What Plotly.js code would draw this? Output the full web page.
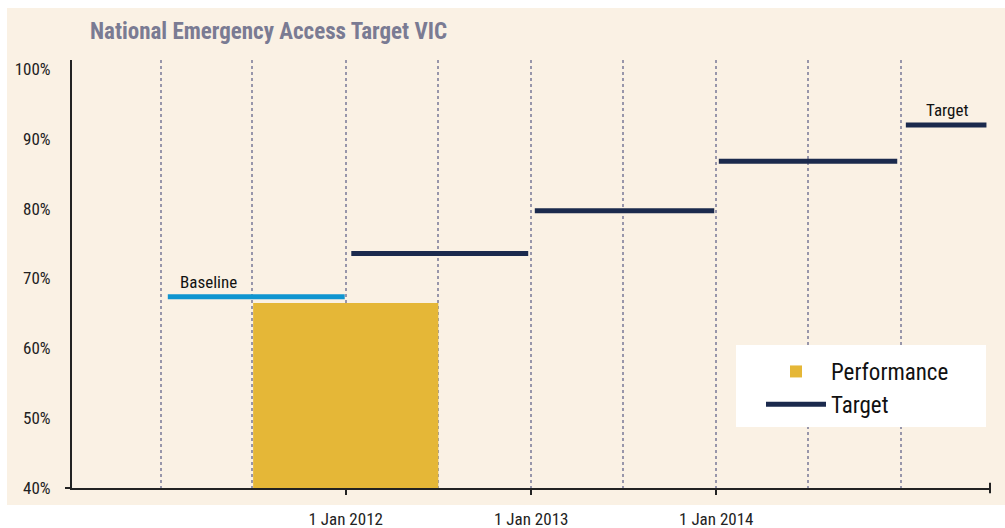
<!DOCTYPE html>
<html>
<head>
<meta charset="utf-8">
<script src="https://cdn.plot.ly/plotly-3.0.1.min.js"></script>
<style>html,body{margin:0;padding:0;background:#fff;}#chart{width:1005px;height:528px;}</style>
</head>
<body>
<div id="chart"></div>
<script>
// ---- data ----
const perfPeriod = ['2012-01-01'];          // centre of the 2011-12 financial year
const perfValue = [66.5];
const baselineStart = ['2011-01-15'];
const baselineEnd = ['2011-12-30'];
const baselineValue = [67.4];
const targetStart = ['2012-01-12', '2013-01-08', '2014-01-06', '2015-01-10'];
const targetEnd = ['2012-12-26', '2013-12-28', '2014-12-24', '2015-06-18'];
const targetValue = [73.6, 79.7, 86.8, 92.0];
const tickDates = ['2012-01-01', '2013-01-01', '2014-01-01'];
const tickLabels = ['1 Jan 2012', '1 Jan 2013', '1 Jan 2014'];
const yTicks = [40, 50, 60, 70, 80, 90, 100];
const yTickLabels = ['40%', '50%', '60%', '70%', '80%', '90%', '100%'];

const FONT = 'Liberation Sans Narrow, Roboto Condensed, Arial Narrow, Liberation Sans, sans-serif';
const YEAR_MS = 365.25 * 24 * 3600 * 1000;

function segs(starts, ends, vals) {
  const x = [], y = [];
  starts.forEach((s, i) => { x.push(s, ends[i], null); y.push(vals[i], vals[i], null); });
  return {x, y};
}
const tg = segs(targetStart, targetEnd, targetValue);
const bl = segs(baselineStart, baselineEnd, baselineValue);

const traces = [
  {type: 'bar', name: 'Performance', x: perfPeriod, y: perfValue.map(v => v - 40), base: 40,
   width: YEAR_MS, marker: {color: '#e5b737'}, hoverinfo: 'skip'},
  {type: 'scatter', mode: 'lines', name: 'Target', x: tg.x, y: tg.y,
   line: {color: '#1b2a4d', width: 5}, connectgaps: false},
  {type: 'scatter', mode: 'lines', name: 'Baseline', x: bl.x, y: bl.y,
   line: {color: '#0f95d0', width: 5}, showlegend: false}
];

const PW = 918, PH = 428, PL = 72, PB = 488;
const px = v => (v - PL) / PW;
const py = v => (PB - v) / PH;

const layout = {
  width: 1005, height: 528,
  margin: {l: 72, r: 15, t: 60, b: 40},
  paper_bgcolor: '#ffffff',
  plot_bgcolor: 'rgba(0,0,0,0)',
  font: {family: FONT, size: 17, color: '#222'},
  title: {text: '<b>National Emergency Access Target VIC</b>', x: px(90), xanchor: 'left', xref: 'paper',
          y: 1 - 31 / 528, yanchor: 'middle', font: {family: FONT, size: 23, color: '#7a7b93'}},
  xaxis: {type: 'date', range: ['2010-07-10', '2015-06-25'],
          tickvals: tickDates, ticktext: tickLabels, ticks: 'outside', ticklen: 5, tickwidth: 2, tickcolor: '#222',
          ticklabelstandoff: 10,
          showline: true, linecolor: '#222', linewidth: 2,
          showgrid: true, gridcolor: '#9896aa', gridwidth: 2, griddash: 'dot',
          minor: {dtick: 'M6', tick0: '2011-01-01', showgrid: true, gridcolor: '#9896aa', gridwidth: 2, griddash: 'dot', ticks: ''},
          tickfont: {family: FONT, size: 17, color: '#222'}, fixedrange: true, zeroline: false},
  yaxis: {range: [40, 101.3], tickvals: yTicks, ticktext: yTickLabels, ticks: '',
          showline: true, linecolor: '#222', linewidth: 2, showgrid: false, zeroline: false,
          ticklabelstandoff: 16, tickfont: {family: FONT, size: 17, color: '#222'}},
  showlegend: true,
  legend: {x: px(761), y: py(350), xanchor: 'left', yanchor: 'top',
           bgcolor: 'rgba(0,0,0,0)', borderwidth: 0, font: {family: FONT, size: 23, color: '#111'},
           itemwidth: 60, tracegroupgap: 0},
  shapes: [
    {type: 'rect', xref: 'paper', yref: 'paper', x0: px(7), x1: px(1005),
     y0: py(505), y1: py(8), fillcolor: '#faf1e4', line: {width: 0}, layer: 'below'},
    {type: 'line', xref: 'paper', yref: 'paper', x0: 1, x1: 1, y0: -0.012, y1: 0.012, line: {color: '#222', width: 2}},
    {type: 'line', xref: 'paper', yref: 'paper', x0: px(65), x1: 0, y0: 0, y1: 0, line: {color: '#222', width: 2}},
    {type: 'rect', xref: 'paper', yref: 'paper', x0: px(736), x1: px(986),
     y0: py(427), y1: py(345), fillcolor: '#ffffff', line: {width: 0}, layer: 'above'}
  ],
  annotations: [
    {x: baselineStart[0], xanchor: 'left', xshift: 10, y: baselineValue[0], yanchor: 'bottom', yshift: 3,
     text: 'Baseline', showarrow: false, font: {family: FONT, size: 17, color: '#111'}},
    {x: targetStart[3], xanchor: 'left', xshift: 18, y: targetValue[3], yanchor: 'bottom', yshift: 3,
     text: 'Target', showarrow: false, font: {family: FONT, size: 17, color: '#111'}}
  ]
};

Plotly.newPlot('chart', traces, layout, {displayModeBar: false, staticPlot: true});
</script>
</body>
</html>
